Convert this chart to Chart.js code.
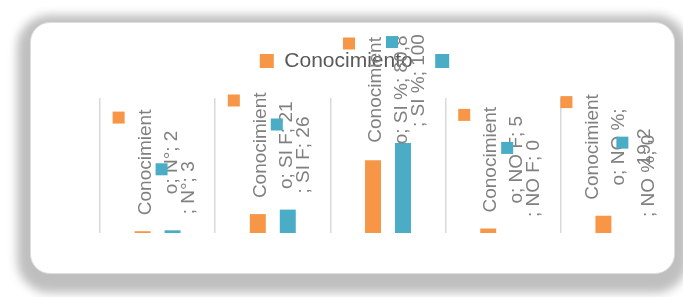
<!DOCTYPE html>
<html><head><meta charset="utf-8">
<script src="https://cdn.jsdelivr.net/npm/chart.js@4/dist/chart.umd.min.js"></script>
<style>
html,body{margin:0;padding:0;background:#fff;width:683px;height:297px;overflow:hidden;}
#card{position:absolute;left:30px;top:22px;width:645px;height:252px;box-sizing:border-box;border:1px solid #dedede;border-radius:20px;background:#fff;overflow:hidden;box-shadow:0 6px 10px 13px rgba(0,0,0,0.25);}
#c{position:absolute;left:-31px;top:-23px;}
</style></head><body>
<div id="card"><canvas id="c" width="683" height="297"></canvas></div>
<script>
const categories = ['N°', 'SI F', 'SI %', 'NO F', 'NO %'];
const seriesNames = ['Conocimiento', ''];
const seriesA = [2, 21, 80.8, 5, 19.2];
const seriesB = [3, 26, 100, 0, 0];
const yMax = 150;

const LABEL_FONT = '19px "Liberation Sans", Arial, sans-serif';
const fmt = v => String(v).replace('.', ',');

function wrap(ctx, text, maxW) {
  const words = text.split(' ');
  const lines = [];
  let cur = '';
  for (const w of words) {
    const cand = cur ? cur + ' ' + w : w;
    if (ctx.measureText(cand).width <= maxW) { cur = cand; continue; }
    if (cur && ctx.measureText(w).width <= maxW) { lines.push(cur); cur = w; continue; }
    let base = cur ? cur + ' ' : '';
    cur = base;
    for (const ch of w) {
      if (ctx.measureText(cur + ch).width > maxW && cur.trim()) { lines.push(cur.trimEnd()); cur = ch; }
      else cur += ch;
    }
  }
  if (cur) lines.push(cur);
  return lines;
}

const labelPlugin = {
  id: 'barLabels',
  afterDatasetsDraw(chart) {
    const ctx = chart.ctx;
    ctx.save();
    ctx.font = LABEL_FONT;
    const maxW = 114, step = 26, sq = 12;
    chart.data.datasets.forEach((ds, di) => {
      const meta = chart.getDatasetMeta(di);
      meta.data.forEach((el, i) => {
        const text = [ds.label, chart.data.labels[i], fmt(ds.data[i])].join('; ');
        const lines = wrap(ctx, text, maxW);
        const n = lines.length;
        const widest = Math.max(...lines.map(l => ctx.measureText(l).width));
        const bottom = el.y - 16;
        const yc = bottom - widest / 2;
        const sqCx = el.x - 11 - (n - 1) * 13;
        ctx.fillStyle = ds.backgroundColor;
        ctx.fillRect(sqCx - sq / 2, yc - widest / 2 + 2, sq, sq);
        ctx.fillStyle = '#808080';
        lines.forEach((ln, k) => {
          ctx.save();
          ctx.translate(sqCx + 32 + k * step, yc);
          ctx.rotate(-Math.PI / 2);
          ctx.textAlign = 'center';
          ctx.textBaseline = 'alphabetic';
          ctx.fillText(ln, 0, 0);
          ctx.restore();
        });
      });
    });
    ctx.restore();
  }
};

new Chart(document.getElementById('c'), {
  type: 'bar',
  data: {
    labels: categories,
    datasets: [
      { label: seriesNames[0], data: seriesA, backgroundColor: '#F79646', borderWidth: 0, categoryPercentage: 0.52, barPercentage: 0.533 },
      { label: seriesNames[1], data: seriesB, backgroundColor: '#4BACC6', borderWidth: 0, categoryPercentage: 0.52, barPercentage: 0.533 }
    ]
  },
  options: {
    responsive: false,
    animation: false,
    events: [],
    layout: { padding: { left: 43.5, right: 7, top: 28, bottom: 64 } },
    plugins: {
      tooltip: { enabled: false },
      legend: {
        position: 'top',
        labels: {
          boxWidth: 14, boxHeight: 14, padding: 22.5, color: '#595959',
          font: { family: '"Liberation Sans", Arial, sans-serif', size: 21 }
        }
      },
      title: { display: true, text: '', position: 'top', weight: 500, padding: 0, font: { size: 10, lineHeight: '16.5px' } }
    },
    scales: {
      x: {
        grid: { display: true, offset: true, color: '#d9d9d9', lineWidth: 1.5, drawTicks: false },
        ticks: { display: false },
        border: { display: false }
      },
      y: {
        display: true, min: 0, max: yMax,
        ticks: { display: false },
        grid: { display: false },
        border: { display: false },
        afterFit(s) { s.width = 56.5; }
      }
    }
  },
  plugins: [labelPlugin]
});
</script>
</body></html>
